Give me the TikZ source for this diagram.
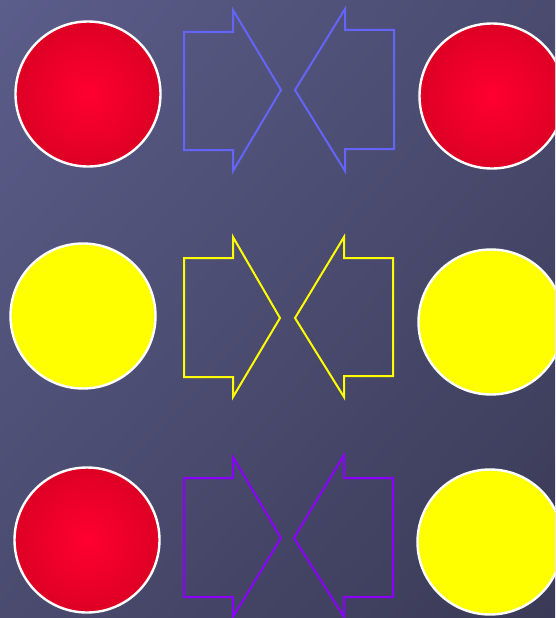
\documentclass[tikz,border=0pt]{standalone}
\usepackage{tikz}
\usetikzlibrary{shadings}
\definecolor{bgtl}{HTML}{5B5D8A}
\definecolor{bgmid}{HTML}{4A4B6F}
\definecolor{bgbr}{HTML}{3A3A56}
\definecolor{ballred}{HTML}{FF0030}
\definecolor{ballrim}{HTML}{DE0024}
\definecolor{ballyellow}{RGB}{255,255,0}
\definecolor{arrowblue}{HTML}{6464F8}
\definecolor{arrowyellow}{RGB}{255,255,0}
\definecolor{arrowpurple}{HTML}{8C00FF}
\tikzset{
  ball/.style={circle,draw=white,line width=2.4pt,minimum size=145pt,inner sep=0pt},
  redball/.style={ball,inner color=ballred,outer color=ballrim},
  yellowball/.style={ball,fill=ballyellow},
  outline/.style={line width=2pt,line join=miter}
}
\begin{document}
\begin{tikzpicture}[x=1pt,y=-1pt]
  \useasboundingbox (0,0) rectangle (555,618);
  \clip (0,0) rectangle (555,618);
  \shade[upper left=bgtl,upper right=bgmid,lower left=bgmid,lower right=bgbr] (0,0) rectangle (555,618);
  % top row: red / red
  \node[redball] (redA) at (88,94) {};
  \node[redball] (redB) at (492,96) {};
  \draw[outline,arrowblue] (184,32) -- (233,32) -- (233,10) -- (281,90) -- (233,171) -- (233,150) -- (184,150) -- cycle;
  \draw[outline,arrowblue] (394,30) -- (345,30) -- (345,9) -- (295,90) -- (345,171) -- (345,149) -- (394,149) -- cycle;
  % middle row: yellow / yellow
  \node[yellowball] (yelA) at (83,316) {};
  \node[yellowball] (yelB) at (491,322) {};
  \draw[outline,arrowyellow] (184,258) -- (233,258) -- (233,237) -- (280,318) -- (233,397) -- (233,377) -- (184,377) -- cycle;
  \draw[outline,arrowyellow] (393,258) -- (344,258) -- (344,237) -- (295,318) -- (344,397) -- (344,376) -- (393,376) -- cycle;
  % bottom row: red / yellow
  \node[redball] (redC) at (87,540) {};
  \node[yellowball] (yelC) at (490,542) {};
  \draw[outline,arrowpurple] (184,478) -- (233,478) -- (233,457) -- (281,538) -- (233,617) -- (233,597) -- (184,597) -- cycle;
  \draw[outline,arrowpurple] (393,478) -- (344,478) -- (344,455) -- (294,538) -- (344,617) -- (344,597) -- (393,597) -- cycle;
\end{tikzpicture}
\end{document}
